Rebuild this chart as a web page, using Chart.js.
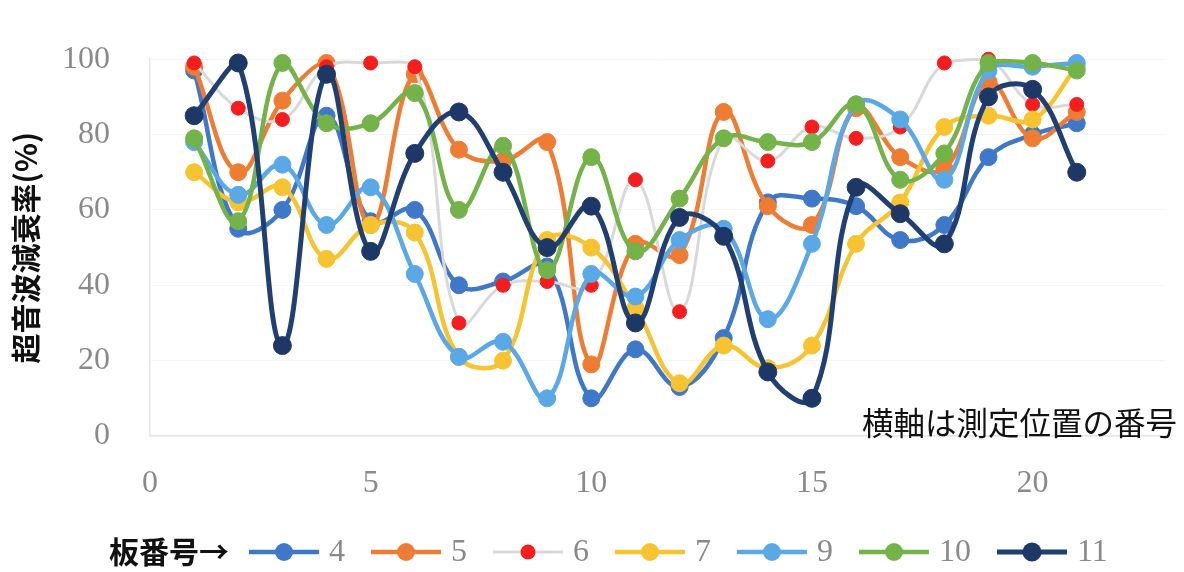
<!DOCTYPE html>
<html><head><meta charset="utf-8">
<script src="https://cdn.jsdelivr.net/npm/chart.js@4.4.1/dist/chart.umd.min.js"></script>
<style>html,body{margin:0;padding:0;background:#fff;}canvas{display:block;}</style>
</head><body>
<canvas id="c" width="1184" height="572"></canvas>
<script>
const positions = [1,2,3,4,5,6,7,8,9,10,11,12,13,14,15,16,17,18,19,20,21];
const boardNames = ['4','5','6','7','9','10','11'];
const s4  = [97,55,60,85,57,60,40,41,45,10,23,13,26,62,63,61,52,56,74,80,83];
const s5  = [98,70,89,99,56,96,76,73,78,19,51,48,86,61,56,87,74,71,94,79,86];
const s6  = [99,87,84,98,99,98,30,40,41,40,68,33,79,73,82,79,82,99,100,88,88];
const s7  = [70,62,66,47,56,54,21,20,52,50,34,14,24,18,24,51,62,82,85,84,98];
const s9  = [78,64,72,56,66,43,21,25,10,43,37,52,55,31,51,88,84,68,97,98,99];
const s10 = [79,57,99,83,83,91,60,77,44,74,49,63,79,78,78,88,68,75,99,99,97];
const s11 = [85,99,24,96,49,75,86,70,50,61,30,58,53,17,10,66,59,51,90,92,70];
const yTicks = [0,20,40,60,80,100];
const xTicks = [0,5,10,15,20];

const seriesValues = [s4,s5,s6,s7,s9,s10,s11];
const lineColors  = ['#3f78c9','#ee7d33','#d9d9d9','#f7c331','#5aa8e6','#74b24a','#203f73'];
const pointColors = ['#3f78c9','#ee7d33','#f51d1d','#f7c331','#5aa8e6','#74b24a','#1d3866'];
const lineWidths  = [4.5,4.5,3,4.5,4.5,4.5,5];
const pointRadii  = [8.5,8.5,7,8.5,8.5,8.5,9];

const datasets = seriesValues.map((vals,i)=>({
  label: boardNames[i],
  data: positions.map((p,j)=>({x:p,y:vals[j]})),
  borderColor: lineColors[i],
  backgroundColor: pointColors[i],
  pointBackgroundColor: pointColors[i],
  pointBorderColor: pointColors[i],
  pointBorderWidth: 1,
  pointRadius: pointRadii[i],
  borderWidth: lineWidths[i],
  tension: 0.4,
  clip: false,
  order: 10 - i
}));

const serif = "'Liberation Serif','DejaVu Serif',serif";
const cjk = "'Noto Sans CJK JP','Noto Sans',sans-serif";

const extras = {
  id: 'extras',
  afterDraw(chart){
    const ctx = chart.ctx;
    ctx.save();
    ctx.fillStyle = '#111';
    ctx.textBaseline = 'middle';
    ctx.textAlign = 'left';
    ctx.font = "31.5px " + cjk;
    ctx.fillText('横軸は測定位置の番号', 862, 423);
    // legend
    const ly = 552;
    ctx.font = "bold 30px " + cjk;
    ctx.fillText('板番号→', 109, ly);
    let x = 249;
    chart.data.datasets.forEach((ds,i)=>{
      ctx.strokeStyle = ds.borderColor;
      ctx.lineWidth = ds.borderWidth;
      ctx.beginPath(); ctx.moveTo(x, ly); ctx.lineTo(x+70, ly); ctx.stroke();
      ctx.fillStyle = ds.pointBackgroundColor;
      ctx.beginPath(); ctx.arc(x+35, ly, ds.pointRadius+0.5, 0, Math.PI*2); ctx.fill();
      ctx.fillStyle = '#8a8a8a';
      ctx.font = "32px " + serif;
      ctx.fillText(ds.label, x+80, ly+1);
      const w = ctx.measureText(ds.label).width;
      x = x + 80 + w + 26;
    });
    ctx.restore();
  }
};

new Chart(document.getElementById('c'), {
  type: 'line',
  data: { datasets },
  options: {
    responsive: false,
    animation: false,
    layout: { padding: { top: 57, right: 19, left: 0, bottom: 0 } },
    plugins: { legend: { display: false }, tooltip: { enabled: false } },
    scales: {
      x: {
        type: 'linear', min: 0, max: 23,
        afterFit: s => { s.height = 136; },
        afterBuildTicks: s => { s.ticks = xTicks.map(v=>({value:v})); },
        grid: { display: false, drawTicks: false },
        border: { display: true, color: '#e6e6e6', width: 1.5 },
        ticks: { color: '#8a8a8a', font: { family: serif, size: 32 }, padding: 28, maxRotation: 0 }
      },
      y: {
        min: 0, max: 100,
        afterFit: s => { s.width = 150; },
        afterBuildTicks: s => { s.ticks = yTicks.map(v=>({value:v})); },
        grid: { color: '#f6f6f6', drawTicks: false },
        border: { display: true, color: '#e6e6e6', width: 1.5 },
        ticks: { color: '#8a8a8a', font: { family: serif, size: 32 }, padding: 40 },
        title: { display: true, text: '超音波減衰率(%)', color: '#111', font: { family: cjk, size: 30, weight: 'bold' }, padding: { top: 8, bottom: 0 } }
      }
    }
  },
  plugins: [extras]
});
</script>
</body></html>
